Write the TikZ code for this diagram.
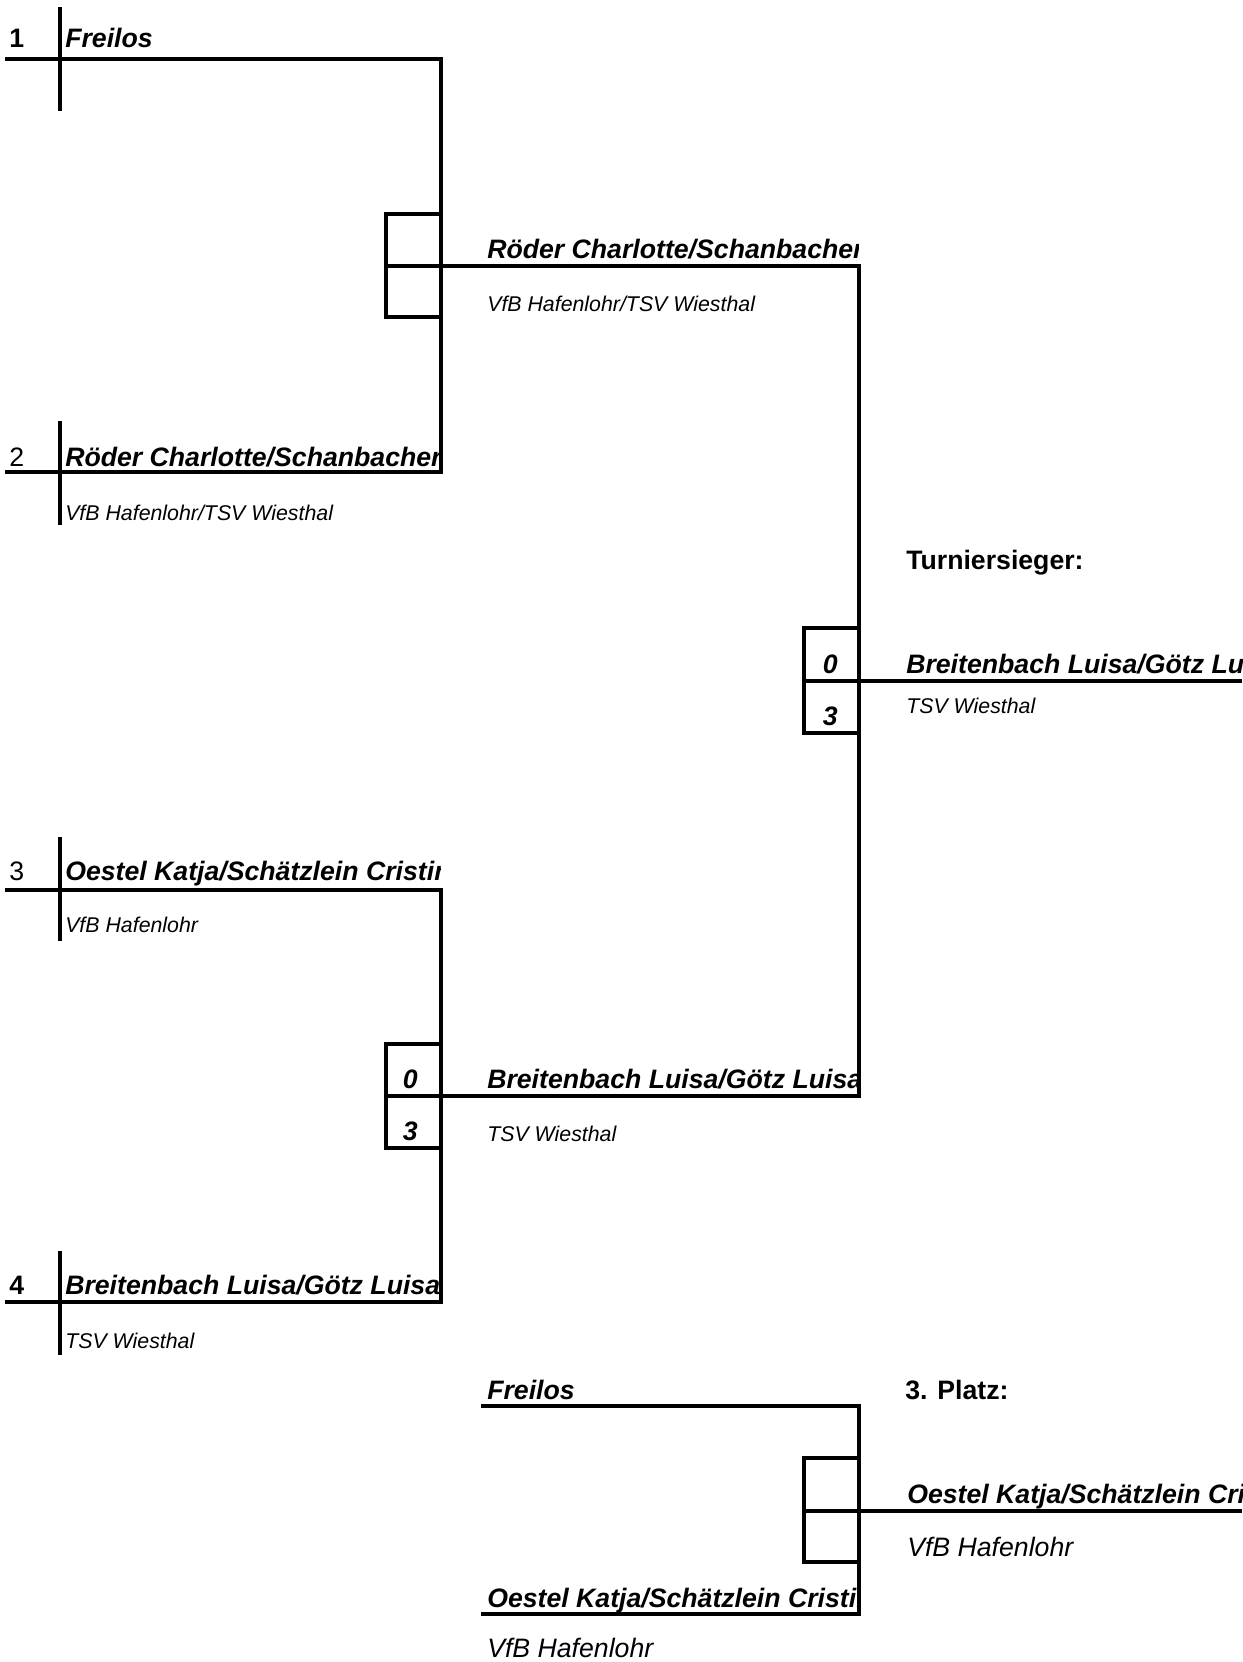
\documentclass[tikz,border=0pt]{standalone}
\usepackage{fontspec}
\setmainfont{Liberation Sans}
\begin{document}
\begin{tikzpicture}[x=0.75pt,y=-0.75pt,
  ln/.style={line width=2.3pt,line join=miter},
  txt/.style={anchor=base west,inner sep=0pt},
  big/.style={txt,font=\fontsize{20}{23}\selectfont\bfseries\itshape},
  small/.style={txt,font=\fontsize{16}{19}\selectfont\itshape},
  num/.style={txt,font=\fontsize{20}{23}\selectfont},
  bnum/.style={txt,font=\fontsize{20}{23}\selectfont\bfseries},
  score/.style={anchor=base east,inner sep=0pt,font=\fontsize{20}{23}\selectfont\bfseries\itshape},
  head/.style={txt,font=\fontsize{20}{23}\selectfont\bfseries},
  wsmall/.style={txt,font=\fontsize{20}{23}\selectfont\itshape}]
\useasboundingbox (0,0) rectangle (1242,1662);

% ---------- coordinates ----------
% round 1
\coordinate (a1) at (5,59);    \coordinate (a1e) at (441,59);
\coordinate (a2) at (5,472);   \coordinate (a2e) at (441,472);
\coordinate (a3) at (5,890);   \coordinate (a3e) at (441,890);
\coordinate (a4) at (5,1302);  \coordinate (a4e) at (441,1302);
% ticks
\coordinate (t1a) at (60,7);    \coordinate (t1b) at (60,111);
\coordinate (t2a) at (60,421);  \coordinate (t2b) at (60,525);
\coordinate (t3a) at (60,837);  \coordinate (t3b) at (60,941);
\coordinate (t4a) at (60,1251); \coordinate (t4b) at (60,1355);
% semis
\coordinate (s1) at (386,266);  \coordinate (s1e) at (859,266);
\coordinate (s2) at (386,1096); \coordinate (s2e) at (859,1096);
\coordinate (b1a) at (386,214); \coordinate (b1b) at (441,317);
\coordinate (b2a) at (386,1044);\coordinate (b2b) at (441,1148);
% final
\coordinate (f) at (804,681);   \coordinate (fe) at (1242,681);
\coordinate (bfa) at (804,628); \coordinate (bfb) at (859,733);
% third place
\coordinate (p1) at (481,1406); \coordinate (p1e) at (859,1406);
\coordinate (p2) at (481,1614); \coordinate (p2e) at (859,1614);
\coordinate (p) at (804,1511);  \coordinate (pe) at (1242,1511);
\coordinate (bpa) at (804,1458);\coordinate (bpb) at (859,1562);

% ---------- lines ----------
\draw[ln] (a1) -- (a1e) -- (a2e) -- (a2);
\draw[ln] (a3) -- (a3e) -- (a4e) -- (a4);
\draw[ln] (t1a) -- (t1b);
\draw[ln] (t2a) -- (t2b);
\draw[ln] (t3a) -- (t3b);
\draw[ln] (t4a) -- (t4b);
\draw[ln] (b1a) rectangle (b1b);
\draw[ln] (b2a) rectangle (b2b);
\draw[ln] (s1) -- (s1e) -- (s2e) -- (s2);
\draw[ln] (bfa) rectangle (bfb);
\draw[ln] (f) -- (fe);
\draw[ln] (p1) -- (p1e) -- (p2e) -- (p2);
\draw[ln] (bpa) rectangle (bpb);
\draw[ln] (p) -- (pe);

% ---------- round 1 texts ----------
\node[bnum] (n1) at (9,48) {1};
\node[num]  (n2) at (9,466) {2};
\node[num]  (n3) at (9,880.5) {3};
\node[bnum] (n4) at (9,1294.5) {4};
\begin{scope}
\clip (0,0) rectangle (440,1662);
\node[big] (e1) at (65,48) {Freilos};
\node[big] (e2) at (65,466) {Röder Charlotte/Schanbacher};
\node[small] (c2) at (65,520) {VfB Hafenlohr/TSV Wiesthal};
\node[big] (e3) at (65,880.5) {Oestel Katja/Schätzlein Cristina};
\node[small] (c3) at (65,932.5) {VfB Hafenlohr};
\node[big] (e4) at (65,1294.5) {Breitenbach Luisa/Götz Luisa};
\node[small] (c4) at (65,1348) {TSV Wiesthal};
\end{scope}

% ---------- semis ----------
\begin{scope}
\clip (442,0) rectangle (858,1662);
\node[big] (w1) at (487,258.5) {Röder Charlotte/Schanbacher};
\node[small] (wc1) at (487,311.5) {VfB Hafenlohr/TSV Wiesthal};
\node[big] (w2) at (487,1088.5) {Breitenbach Luisa/Götz Luisa};
\node[small] (wc2) at (487,1141.5) {TSV Wiesthal};
\end{scope}
\node[score] (sc1) at (418,1088.5) {0};
\node[score] (sc2) at (418,1140.5) {3};

% ---------- final ----------
\node[head] (champ) at (906,569.5) {Turniersieger:};
\begin{scope}
\clip (860,0) rectangle (1242,1662);
\node[big] (win) at (906,673.5) {Breitenbach Luisa/Götz Luisa};
\end{scope}
\node[small] (winc) at (906,713.5) {TSV Wiesthal};
\node[score] (fs1) at (838,673.5) {0};
\node[score] (fs2) at (838,725) {3};

% ---------- third place ----------
\node[big] (q1) at (487,1399) {Freilos};
\node[head] (third) at (905,1399) {3. Platz:};
\begin{scope}
\clip (860,0) rectangle (1242,1662);
\node[big] (tw) at (907,1503) {Oestel Katja/Schätzlein Cristina};
\end{scope}
\node[wsmall] (twc) at (907,1556) {VfB Hafenlohr};
\begin{scope}
\clip (442,0) rectangle (858,1662);
\node[big] (q2) at (487,1607) {Oestel Katja/Schätzlein Cristina};
\end{scope}
\node[wsmall] (q2c) at (487,1657) {VfB Hafenlohr};
\end{tikzpicture}
\end{document}
